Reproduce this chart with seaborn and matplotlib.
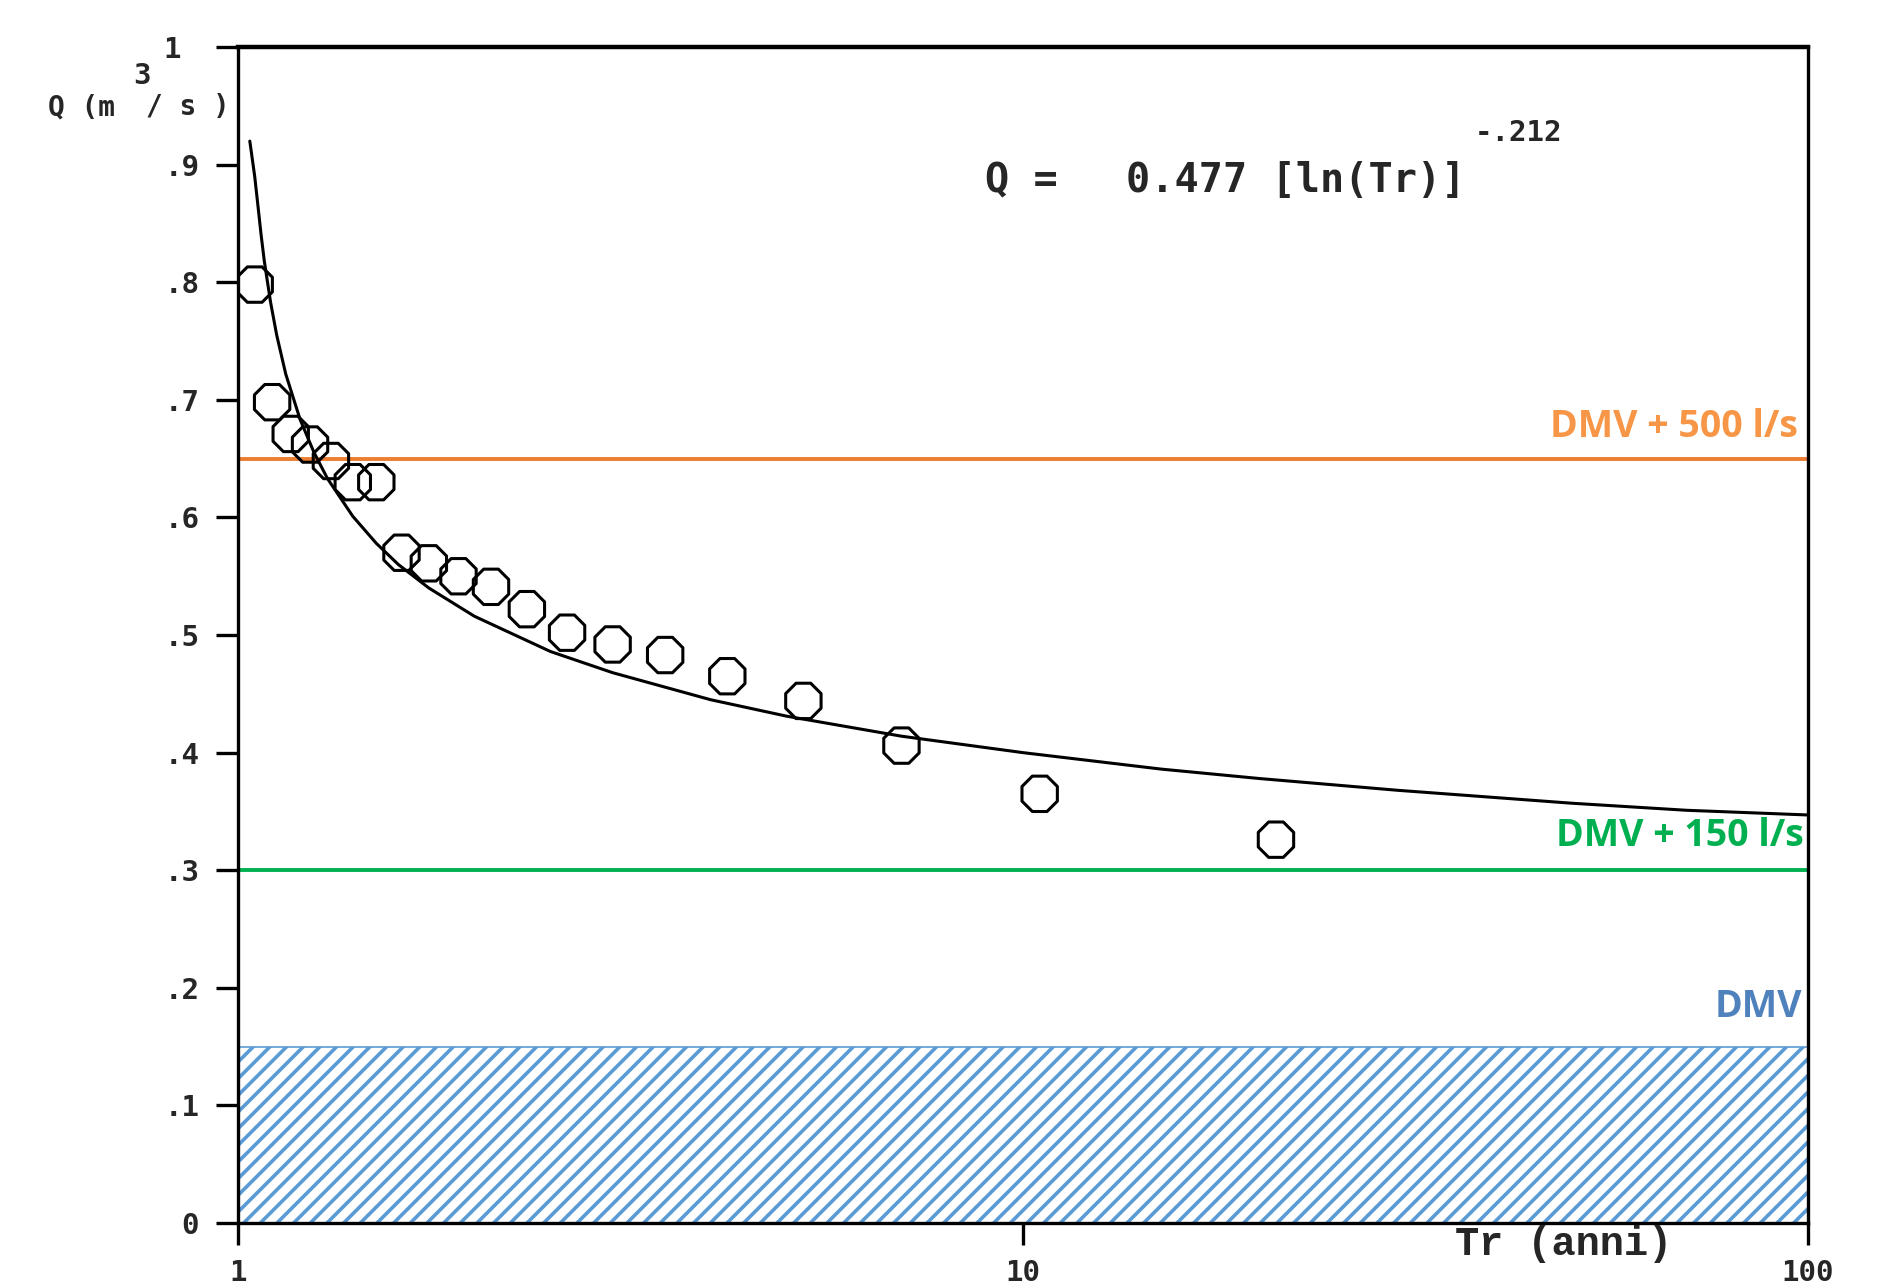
import matplotlib
matplotlib.use('Agg')
import matplotlib.pyplot as plt
import seaborn as sns

# observed discharges vs return period
tr_obs = [1.05, 1.105, 1.167, 1.235, 1.313, 1.40, 1.50, 1.615, 1.75, 1.909,
          2.1, 2.333, 2.625, 3.0, 3.5, 4.2, 5.25, 7.0, 10.5, 21.0]
q_obs = [0.798, 0.698, 0.671, 0.662, 0.648, 0.630, 0.630, 0.570, 0.561, 0.550,
         0.541, 0.522, 0.502, 0.492, 0.483, 0.465, 0.444, 0.406, 0.365, 0.326]

# fitted curve
tr_fit = [1.035, 1.04, 1.05, 1.06, 1.07, 1.08, 1.1, 1.12, 1.15, 1.2, 1.25, 1.3, 1.4,
          1.5, 1.6, 1.75, 2, 2.5, 3, 4, 5, 7, 10, 15, 20, 30, 50, 70, 100]
q_fit = [0.920, 0.910, 0.890, 0.865, 0.840, 0.818, 0.783, 0.755, 0.722, 0.683, 0.655,
         0.633, 0.601, 0.578, 0.560, 0.540, 0.516, 0.486, 0.468, 0.445, 0.431,
         0.414, 0.400, 0.386, 0.378, 0.368, 0.357, 0.351, 0.347]

# reference levels
dmv = 0.15
dmv_500 = 0.65
dmv_150 = 0.30

y_ticks = [0, 0.1, 0.2, 0.3, 0.4, 0.5, 0.6, 0.7, 0.8, 0.9, 1.0]
y_labels = ['0', '.1', '.2', '.3', '.4', '.5', '.6', '.7', '.8', '.9', '1 ']
x_ticks = [1, 10, 100]
x_labels = ['1', '10', '100']

sns.set_style('white')
plt.rcParams['font.family'] = ['DejaVu Sans Mono']
plt.rcParams['hatch.linewidth'] = 2.6

fig, ax = plt.subplots(figsize=(18.94, 12.85), dpi=100)
fig.subplots_adjust(left=0.1257, right=0.9546, bottom=0.0482, top=0.9634)

#DMV hatched band
ax.fill_between([1, 100], 0, dmv, facecolor='white', edgecolor='#5B9BD5',
                hatch='//', linewidth=1.2, zorder=1)

# threshold lines
ax.axhline(dmv_500, color='#ED7D31', lw=2.8, zorder=2)
ax.axhline(dmv_150, color='#00B050', lw=2.8, zorder=2)

# fitted curve and observed points
sns.lineplot(x=tr_fit, y=q_fit, color='black', lw=2.2, ax=ax, zorder=3)
sns.scatterplot(x=tr_obs, y=q_obs, marker='8', s=760, facecolor='none',
                edgecolor='black', linewidth=2.2, ax=ax, zorder=4)

ax.set_xscale('log')
ax.set_xlim(1, 100)
ax.set_ylim(0, 1)
ax.set_xticks(x_ticks)
ax.set_xticklabels(x_labels)
ax.minorticks_off()
ax.set_yticks(y_ticks)
ax.set_yticklabels(y_labels)
ax.tick_params(axis='both', direction='out', length=16, width=2.4,
               labelsize=21, color='black')
ax.tick_params(axis='y', left=True, pad=12)
ax.tick_params(axis='x', bottom=True, pad=10)
for lbl in ax.get_xticklabels() + ax.get_yticklabels():
    lbl.set_fontweight('bold')
for side in ax.spines.values():
    side.set_color('black')
    side.set_linewidth(2.4)
ax.spines['top'].set_linewidth(3.2)

# formula and axis labels
fig.text(985 / 1894, 1 - 181 / 1285, 'Q =', fontsize=29, fontweight='bold', va='center', ha='left')
fig.text(1126 / 1894, 1 - 181 / 1285, '0.477 [ln(Tr)]', fontsize=29, fontweight='bold',
         va='center', ha='left')
fig.text(1475 / 1894, 1 - 133 / 1285, '-.212', fontsize=21, fontweight='bold', va='center', ha='left')

fig.text(48 / 1894, 1 - 107 / 1285, 'Q (m', fontsize=20, fontweight='bold', va='center', ha='left')
fig.text(133 / 1894, 1 - 76 / 1285, '3', fontsize=21, fontweight='bold', va='center', ha='left')
fig.text(146 / 1894, 1 - 107 / 1285, '/ s )', fontsize=20, fontweight='bold', va='center', ha='left')

fig.text(1564 / 1894, 1 - 1244 / 1285, 'Tr (anni)', fontsize=29, va='center', ha='center',
         family='Liberation Mono', fontweight='bold')

# level labels
lab = dict(ha='right', va='baseline', fontsize=27, fontweight='bold', family='Open Sans',
           transform=ax.get_yaxis_transform())
ax.text(0.9936, 0.668, 'DMV + 500 l/s', color='#F79646', **lab)
ax.text(0.9975, 0.321, 'DMV + 150 l/s', color='#00B050', **lab)
ax.text(0.996, 0.175, 'DMV', color='#4F81BD', **lab)

ax.set_xlabel('')
ax.set_ylabel('')

fig.savefig('out.png', dpi=100)
